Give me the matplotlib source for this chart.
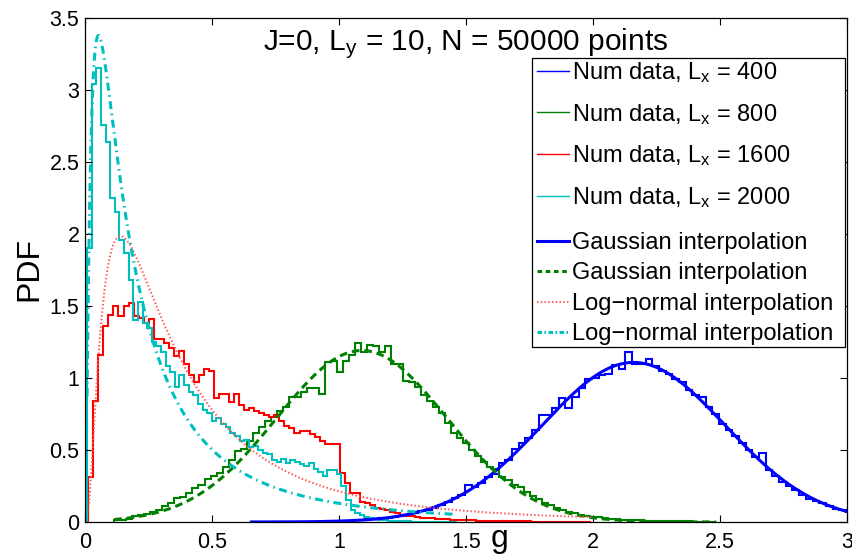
import numpy as np
import matplotlib
matplotlib.use('Agg')
import matplotlib.pyplot as plt
from matplotlib.lines import Line2D
from matplotlib.patches import Rectangle

plt.rcParams['font.family'] = ['Liberation Sans', 'DejaVu Sans']
plt.rcParams['mathtext.fontset'] = 'custom'
plt.rcParams['mathtext.rm'] = 'Liberation Sans'
plt.rcParams['mathtext.it'] = 'Liberation Sans:italic'

# ---------------- data ----------------
# histogram of L_x = 400 (blue)
blue_start, blue_width = 0.655, 0.0263
blue_vals = [0.000, 0.000, 0.001, 0.000, 0.001, 0.001, 0.001, 0.002, 0.002, 0.003,
             0.003, 0.005, 0.005, 0.007, 0.009, 0.011, 0.014, 0.018, 0.021, 0.026,
             0.031, 0.036, 0.045, 0.052, 0.062, 0.078, 0.085, 0.100, 0.120, 0.140,
             0.170, 0.190, 0.260, 0.240, 0.270, 0.310, 0.330, 0.410, 0.430, 0.510,
             0.550, 0.580, 0.640, 0.740, 0.740, 0.790, 0.860, 0.790, 0.870, 0.930,
             0.990, 1.000, 1.020, 1.030, 1.090, 1.060, 1.180, 1.100, 1.100, 1.130,
             1.080, 1.050, 1.030, 0.990, 0.970, 0.920, 0.880, 0.870, 0.800, 0.750,
             0.680, 0.640, 0.600, 0.550, 0.500, 0.450, 0.480, 0.360, 0.320, 0.280,
             0.250, 0.220, 0.190, 0.160, 0.145, 0.130, 0.110, 0.090, 0.080, 0.070,
             0.060, 0.050, 0.045, 0.035, 0.030, 0.025, 0.020, 0.018, 0.014, 0.012]

# histogram of L_x = 800 (green)
green_start, green_width = 0.115, 0.0237
green_vals = [0.012, 0.016, 0.022, 0.040, 0.047, 0.055, 0.066, 0.080, 0.110, 0.135,
              0.165, 0.175, 0.200, 0.235, 0.260, 0.300, 0.320, 0.340, 0.380, 0.430,
              0.490, 0.510, 0.560, 0.620, 0.660, 0.700, 0.730, 0.770, 0.800, 0.870,
              0.870, 0.900, 0.930, 0.930, 0.890, 1.110, 1.120, 1.040, 1.120, 1.160,
              1.240, 1.180, 1.230, 1.220, 1.180, 1.220, 1.100, 1.100, 0.980, 0.970,
              0.940, 0.880, 0.840, 0.800, 0.760, 0.690, 0.620, 0.580, 0.550, 0.500,
              0.460, 0.420, 0.380, 0.370, 0.310, 0.290, 0.260, 0.240, 0.210, 0.180,
              0.160, 0.130, 0.120, 0.100, 0.085, 0.070, 0.065, 0.050, 0.045, 0.038,
              0.032, 0.027, 0.023, 0.020, 0.017, 0.015, 0.013, 0.011, 0.010, 0.008,
              0.007, 0.006, 0.005, 0.005, 0.004, 0.004, 0.003, 0.003, 0.002, 0.002]

# histogram of L_x = 1600 (red)
red_start, red_width = 0.013, 0.0198
red_vals = [0.31, 0.84, 1.16, 1.36, 1.44, 1.50, 1.43, 1.50, 1.52, 1.43,
            1.42, 1.38, 1.41, 1.27, 1.27, 1.24, 1.21, 1.15, 1.19, 1.10,
            1.02, 0.97, 1.02, 1.06, 1.05, 0.86, 0.89, 0.89, 0.83, 0.89,
            0.81, 0.78, 0.79, 0.77, 0.76, 0.74, 0.73, 0.74, 0.70, 0.67,
            0.65, 0.62, 0.63, 0.63, 0.61, 0.59, 0.56, 0.545, 0.545, 0.54,
            0.34, 0.27, 0.20, 0.20, 0.14, 0.13, 0.12, 0.10, 0.09, 0.08,
            0.07, 0.06, 0.05, 0.045, 0.04, 0.035, 0.03, 0.028, 0.025, 0.022,
            0.020, 0.018, 0.016, 0.015, 0.013, 0.012, 0.011, 0.010, 0.009, 0.008,
            0.008, 0.007, 0.006, 0.006, 0.005, 0.005, 0.004, 0.004, 0.003, 0.003,
            0.003, 0.002, 0.002, 0.002, 0.001, 0.001, 0.001, 0.001, 0.001, 0.001]

# histogram of L_x = 2000 (cyan)
cyan_start, cyan_width = 0.008, 0.0182
cyan_vals = [1.90, 3.04, 3.15, 2.76, 2.64, 2.25, 2.15, 1.96, 1.87, 1.68,
             1.40, 1.53, 1.38, 1.35, 1.25, 1.22, 1.18, 1.08, 1.04, 0.94,
             1.02, 0.95, 0.90, 0.88, 0.82, 0.78, 0.76, 0.70, 0.72, 0.68,
             0.66, 0.62, 0.60, 0.56, 0.57, 0.52, 0.53, 0.50, 0.48, 0.47,
             0.43, 0.42, 0.44, 0.41, 0.43, 0.42, 0.40, 0.39, 0.41, 0.37,
             0.35, 0.32, 0.36, 0.36, 0.33, 0.25, 0.15, 0.08, 0.06, 0.05,
             0.035, 0.025, 0.020, 0.015, 0.012, 0.010, 0.008, 0.006, 0.005, 0.004,
             0.003, 0.003, 0.002, 0.002, 0.002, 0.001, 0.001, 0.001, 0.001, 0.001]

# fitted curves: Gaussian (mu, sigma) and log-normal (mu, sigma) parameters
gauss_blue = (2.16, 0.36)
gauss_green = (1.09, 0.335)
lognorm_red = (-1.10, 0.93)
lognorm_cyan = (-1.615, 1.15)

data_labels = [r'Num data, L$_{\rm x}$ = 400', r'Num data, L$_{\rm x}$ = 800',
               r'Num data, L$_{\rm x}$ = 1600', r'Num data, L$_{\rm x}$ = 2000']
fit_labels = ['Gaussian interpolation', 'Gaussian interpolation',
              'Log\u2212normal interpolation', 'Log\u2212normal interpolation']
title_text = r'J=0, L$_{\rm y}$ = 10, N = 50000 points'
xticks = [0, 0.5, 1, 1.5, 2, 2.5, 3]
yticks = [0, 0.5, 1, 1.5, 2, 2.5, 3, 3.5]
tick_labels_x = ['0', '0.5', '1', '1.5', '2', '2.5', '3']
tick_labels_y = ['0', '0.5', '1', '1.5', '2', '2.5', '3', '3.5']

# ---------------- styles ----------------
C_BLUE = '#0000ff'
C_GREEN = '#008000'
C_RED = '#ff0000'
C_CYAN = '#00bfbf'
C_RED_FIT = '#ff5a5a'


def edges_of(start, width, vals):
    return start + width * np.arange(len(vals) + 1)


def gauss(x, p):
    mu, s = p
    return np.exp(-(x - mu) ** 2 / (2 * s ** 2)) / (s * np.sqrt(2 * np.pi))


def lognorm(x, p):
    mu, s = p
    return np.exp(-(np.log(x) - mu) ** 2 / (2 * s ** 2)) / (x * s * np.sqrt(2 * np.pi))


fig = plt.figure(figsize=(8.52, 5.55), dpi=100)
AX_L, AX_B, AX_W, AX_H = 85, 33, 762, 504  # pixels
ax = fig.add_axes([AX_L / 852, AX_B / 555, AX_W / 852, AX_H / 555])


def ax_frac(px, py):
    """pixel position (from top-left of the image) -> axes fraction"""
    return (px - AX_L) / AX_W, (555 - AX_B - py) / AX_H


hist_lw = 1.5
eb = edges_of(blue_start, blue_width, blue_vals)
eg = edges_of(green_start, green_width, green_vals)
er = edges_of(red_start, red_width, red_vals)
ec = edges_of(cyan_start, cyan_width, cyan_vals)
ax.stairs(blue_vals, eb, color=C_BLUE, lw=hist_lw)
ax.stairs(green_vals, eg, color=C_GREEN, lw=hist_lw)
ax.stairs(red_vals, er, color=C_RED, lw=hist_lw)
ax.stairs(cyan_vals, ec, color=C_CYAN, lw=hist_lw)

xb = np.linspace(eb[0], eb[-1], 600)
xg = np.linspace(eg[0], eg[-1], 600)
xr = np.linspace(er[0], er[-1], 800)
xc = np.linspace(ec[0], ec[-1], 1000)
ax.plot(xb, gauss(xb, gauss_blue), color=C_BLUE, lw=2.2)
ax.plot(xg, gauss(xg, gauss_green), color=C_GREEN, lw=2.2, ls=(0, (2.5, 1.6)))
ax.plot(xr, lognorm(xr, lognorm_red), color=C_RED_FIT, lw=1.5, ls=(0, (0.7, 1.1)))
ax.plot(xc, lognorm(xc, lognorm_cyan), color=C_CYAN, lw=2.2, ls=(0, (2.6, 1.5, 0.5, 1.5)))

ax.set_xlim(0, 3)
ax.set_ylim(0, 3.5)
ax.set_xticks(xticks)
ax.set_xticklabels(tick_labels_x)
ax.set_yticks(yticks)
ax.set_yticklabels(tick_labels_y)
ax.tick_params(direction='in', length=5, width=0.8, top=True, right=True,
               labelsize=15.5, colors='black')
ax.tick_params(axis='x', pad=7)
ax.tick_params(axis='y', pad=4)
for sp in ax.spines.values():
    sp.set_linewidth(0.9)

tx, ty = ax_frac(466, 50)
ax.text(tx, ty, title_text, transform=ax.transAxes, ha='center',
        va='baseline', fontsize=21.5)
tx, ty = ax_frac(29, 269)
ax.text(tx, ty, 'PDF', transform=ax.transAxes, rotation=90,
        ha='center', va='center', fontsize=23)
tx, ty = ax_frac(500, 547)
ax.text(tx, ty, 'g', transform=ax.transAxes, ha='center',
        va='baseline', fontsize=23)

# legend: white box with two frameless legends inside
fx0, fy0 = ax_frac(532, 347)
fx1, fy1 = ax_frac(845, 58)
box = Rectangle((fx0, fy0), fx1 - fx0, fy1 - fy0, transform=ax.transAxes,
                facecolor='white', edgecolor='black', lw=0.9, zorder=4.5)
ax.add_patch(box)

data_handles = [Line2D([], [], color=C_BLUE, lw=1.0),
                Line2D([], [], color=C_GREEN, lw=1.0),
                Line2D([], [], color=C_RED, lw=1.0),
                Line2D([], [], color=C_CYAN, lw=1.0)]
fit_handles = [Line2D([], [], color=C_BLUE, lw=2.2),
               Line2D([], [], color=C_GREEN, lw=2.2, ls=(0, (1.5, 1.2))),
               Line2D([], [], color=C_RED_FIT, lw=1.5, ls=(0, (0.7, 1.1))),
               Line2D([], [], color=C_CYAN, lw=2.2, ls=(0, (1.5, 0.8, 0.5, 0.8)))]
LEG_FS = 17
common = dict(loc='upper left', bbox_transform=ax.transAxes, borderaxespad=0,
              fontsize=LEG_FS, frameon=False, handlelength=1.35,
              handletextpad=0.15, borderpad=0)
leg1 = ax.legend(data_handles, data_labels, bbox_to_anchor=ax_frac(537, 60),
                 labelspacing=0.71, **common)
leg1.set_zorder(5)
ax.add_artist(leg1)
leg2 = ax.legend(fit_handles, fit_labels, bbox_to_anchor=ax_frac(537, 232),
                 labelspacing=0.36, **common)
leg2.set_zorder(5)

fig.savefig('out.png', dpi=100)
